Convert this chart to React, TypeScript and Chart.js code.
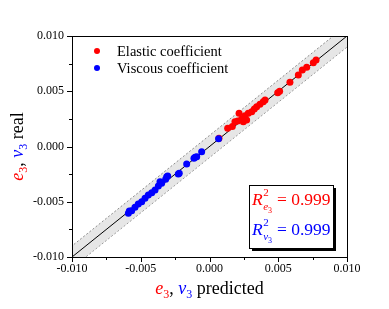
import React, { useEffect, useRef } from "react";
import { Chart, registerables } from "chart.js";

Chart.register(...registerables);

// Elastic coefficient (e3): predicted vs real
const elasticPredicted = [0.00069, 0.00132, 0.00166, 0.00185, 0.00205, 0.00215, 0.00234, 0.00246, 0.00258, 0.0027, 0.00282, 0.00307, 0.00326, 0.00343, 0.00367, 0.00391, 0.00404, 0.00496, 0.00510, 0.00585, 0.00646, 0.00675, 0.00707, 0.00755, 0.00775];
const elasticReal = [0.00074, 0.00165, 0.0018, 0.00224, 0.00231, 0.0030, 0.00249, 0.00224, 0.00279, 0.0024, 0.0030, 0.00315, 0.0034, 0.0036, 0.00382, 0.00405, 0.00421, 0.00487, 0.00500, 0.00581, 0.00647, 0.00692, 0.00717, 0.00759, 0.00783];

// Viscous coefficient (v3): predicted vs real
const viscousPredicted = [0.00066, -0.00057, -0.00093, -0.00105, -0.00113, -0.00166, -0.0022, -0.00227, -0.00304, -0.00311, -0.00319, -0.00348, -0.0036, -0.00372, -0.00396, -0.0042, -0.00445, -0.00469, -0.00493, -0.00518, -0.00542, -0.00566, -0.00583, -0.0059];
const viscousReal = [0.00070, -0.00047, -0.00092, -0.00098, -0.00107, -0.00158, -0.00242, -0.00249, -0.00267, -0.00273, -0.00297, -0.00333, -0.00318, -0.00358, -0.00394, -0.00418, -0.00439, -0.00469, -0.005, -0.0052, -0.0055, -0.00581, -0.00584, -0.00604];

const axisMin = -0.01;
const axisMax = 0.01;
const majorStep = 0.005;
const minorStep = 0.0025;
const bandOffset = 0.001;
const lineX = [-0.011, 0.011];

const r2Elastic = "0.999";
const r2Viscous = "0.999";
const legendLabels = ["Elastic coefficient", "Viscous coefficient"];

const RED = "#ff0000";
const BLUE = "#0000ff";
const SERIF = "'Liberation Serif', 'Times New Roman', serif";

type Seg = { t: string; size: number; italic?: boolean; color: string; dy?: number; dx?: number };

function drawSegs(ctx: CanvasRenderingContext2D, segs: Seg[], x: number, y: number, measureOnly = false): number {
  let cx = x;
  for (const s of segs) {
    ctx.font = `${s.italic ? "italic " : ""}${s.size}px ${SERIF}`;
    const w = ctx.measureText(s.t).width;
    if (!measureOnly) {
      ctx.fillStyle = s.color;
      ctx.fillText(s.t, cx + (s.dx || 0), y + (s.dy || 0));
    }
    cx += w + (s.dx || 0);
  }
  return cx - x;
}

const decorPlugin = {
  id: "decor",
  afterDraw(chart: any) {
    const ctx: CanvasRenderingContext2D = chart.ctx;
    const { left, right, top, bottom } = chart.chartArea;
    const xs = chart.scales.x;
    const ys = chart.scales.y;
    ctx.save();
    // box
    ctx.strokeStyle = "#000";
    ctx.lineWidth = 1;
    ctx.strokeRect(Math.round(left) + 0.5, Math.round(top) + 0.5, Math.round(right - left), Math.round(bottom - top));
    // ticks
    const n = Math.round((axisMax - axisMin) / minorStep);
    for (let i = 0; i <= n; i++) {
      const v = axisMin + i * minorStep;
      const major = i % Math.round(majorStep / minorStep) === 0;
      const len = major ? 5 : 3;
      const px = Math.round(xs.getPixelForValue(v)) + 0.5;
      ctx.beginPath();
      ctx.moveTo(px, bottom);
      ctx.lineTo(px, bottom + len);
      ctx.stroke();
      const py = Math.round(ys.getPixelForValue(v)) + 0.5;
      ctx.beginPath();
      ctx.moveTo(left, py);
      ctx.lineTo(left - len, py);
      ctx.stroke();
    }
    ctx.textBaseline = "alphabetic";
    ctx.textAlign = "left";
    // x title
    const titleSegs = (word: string): Seg[] => [
      { t: "e", size: 18, italic: true, color: RED },
      { t: "3", size: 12, color: RED, dy: 4 },
      { t: ", ", size: 18, color: "#000" },
      { t: "v", size: 18, italic: true, color: BLUE },
      { t: "3", size: 12, color: BLUE, dy: 4 },
      { t: " " + word, size: 18, color: "#000" },
    ];
    const cxMid = (left + right) / 2;
    const xt = titleSegs("predicted");
    const wx = drawSegs(ctx, xt, 0, 0, true);
    drawSegs(ctx, xt, cxMid - wx / 2, 294);
    // y title
    const yt = titleSegs("real");
    const wy = drawSegs(ctx, yt, 0, 0, true);
    ctx.save();
    ctx.translate(23, (top + bottom) / 2);
    ctx.rotate(-Math.PI / 2);
    drawSegs(ctx, yt, -wy / 2, 0);
    ctx.restore();
    // legend
    const legendColors = [RED, BLUE];
    legendLabels.forEach((lab, i) => {
      const ly = 51 + i * 17;
      ctx.fillStyle = legendColors[i];
      ctx.beginPath();
      ctx.arc(97, ly, 3, 0, Math.PI * 2);
      ctx.fill();
      ctx.fillStyle = "#000";
      ctx.font = `14.5px ${SERIF}`;
      ctx.textBaseline = "middle";
      ctx.fillText(lab, 117, ly + 1);
    });
    ctx.textBaseline = "alphabetic";
    // R2 box
    const bx = 249, by = 185, bw = 84, bh = 63;
    ctx.fillStyle = "#000";
    ctx.fillRect(bx + 3, by + 3, bw, bh);
    ctx.fillStyle = "#fff";
    ctx.fillRect(bx, by, bw, bh);
    ctx.strokeStyle = "#000";
    ctx.strokeRect(bx + 0.5, by + 0.5, bw, bh);
    const r2Line = (color: string, sub: string, val: string, base: number) => {
      ctx.font = `italic 17.5px ${SERIF}`;
      ctx.fillStyle = color;
      ctx.fillText("R", 252, base);
      const rw = ctx.measureText("R").width;
      const sx = 252 + rw + 0.5;
      ctx.font = `11px ${SERIF}`;
      ctx.fillText("2", sx, base - 9);
      ctx.font = `italic 11px ${SERIF}`;
      ctx.fillText(sub, sx, base + 5);
      const ew = ctx.measureText(sub).width;
      ctx.font = `8px ${SERIF}`;
      ctx.fillText("3", sx + ew, base + 8);
      ctx.font = `17.5px ${SERIF}`;
      ctx.fillText("= " + val, 277, base);
    };
    r2Line(RED, "e", r2Elastic, 205);
    r2Line(BLUE, "v", r2Viscous, 235);
    ctx.restore();
  },
};

export default function App() {
  const ref = useRef<HTMLCanvasElement | null>(null);
  useEffect(() => {
    document.body.style.margin = "0";
    const canvas = ref.current!;
    const tickFont = { family: SERIF, size: 12 };
    const chart = new Chart(canvas, {
      type: "scatter",
      data: {
        datasets: [
          {
            label: legendLabels[0],
            data: elasticPredicted.map((x, i) => ({ x, y: elasticReal[i] })),
            backgroundColor: RED,
            borderColor: RED,
            pointRadius: 3.5,
            borderWidth: 0,
            order: 1,
          },
          {
            label: legendLabels[1],
            data: viscousPredicted.map((x, i) => ({ x, y: viscousReal[i] })),
            backgroundColor: BLUE,
            borderColor: BLUE,
            pointRadius: 3.5,
            borderWidth: 0,
            order: 0,
          },
          {
            label: "y = x",
            data: lineX.map((x) => ({ x, y: x })),
            showLine: true,
            borderColor: "#000",
            borderWidth: 1,
            pointRadius: 0,
            order: 2,
          },
          {
            label: "upper",
            data: lineX.map((x) => ({ x, y: x + bandOffset })),
            showLine: true,
            borderColor: "#8c8c8c",
            borderDash: [2, 2],
            borderWidth: 1,
            pointRadius: 0,
            fill: "+1",
            backgroundColor: "rgba(200,200,200,0.45)",
            order: 3,
          },
          {
            label: "lower",
            data: lineX.map((x) => ({ x, y: x - bandOffset })),
            showLine: true,
            borderColor: "#8c8c8c",
            borderDash: [2, 2],
            borderWidth: 1,
            pointRadius: 0,
            order: 4,
          },
        ],
      },
      options: {
        animation: false,
        responsive: false,
        maintainAspectRatio: false,
        layout: { padding: { left: 0, top: 36, right: 42, bottom: 0 } },
        plugins: { legend: { display: false }, tooltip: { enabled: false } },
        scales: {
          x: {
            type: "linear",
            min: axisMin,
            max: axisMax,
            ticks: {
              stepSize: majorStep,
              font: tickFont,
              color: "#000",
              padding: 5,
              maxRotation: 0,
              callback: (v: any) => Number(v).toFixed(3),
            },
            grid: { display: false, drawTicks: false },
            border: { display: true, color: "#000", width: 1 },
            afterFit: (s: any) => {
              s.height = 52;
            },
          },
          y: {
            type: "linear",
            min: axisMin,
            max: axisMax,
            ticks: {
              stepSize: majorStep,
              font: tickFont,
              color: "#000",
              padding: 8,
              callback: (v: any) => Number(v).toFixed(3),
            },
            grid: { display: false, drawTicks: false },
            border: { display: true, color: "#000", width: 1 },
            afterFit: (s: any) => {
              s.width = 72;
            },
          },
        },
      },
      plugins: [decorPlugin],
    } as any);
    return () => chart.destroy();
  }, []);
  return (
    <div style={{ width: 389, height: 309, background: "#fff" }}>
      <canvas ref={ref} width={389} height={309} style={{ display: "block" }} />
    </div>
  );
}
